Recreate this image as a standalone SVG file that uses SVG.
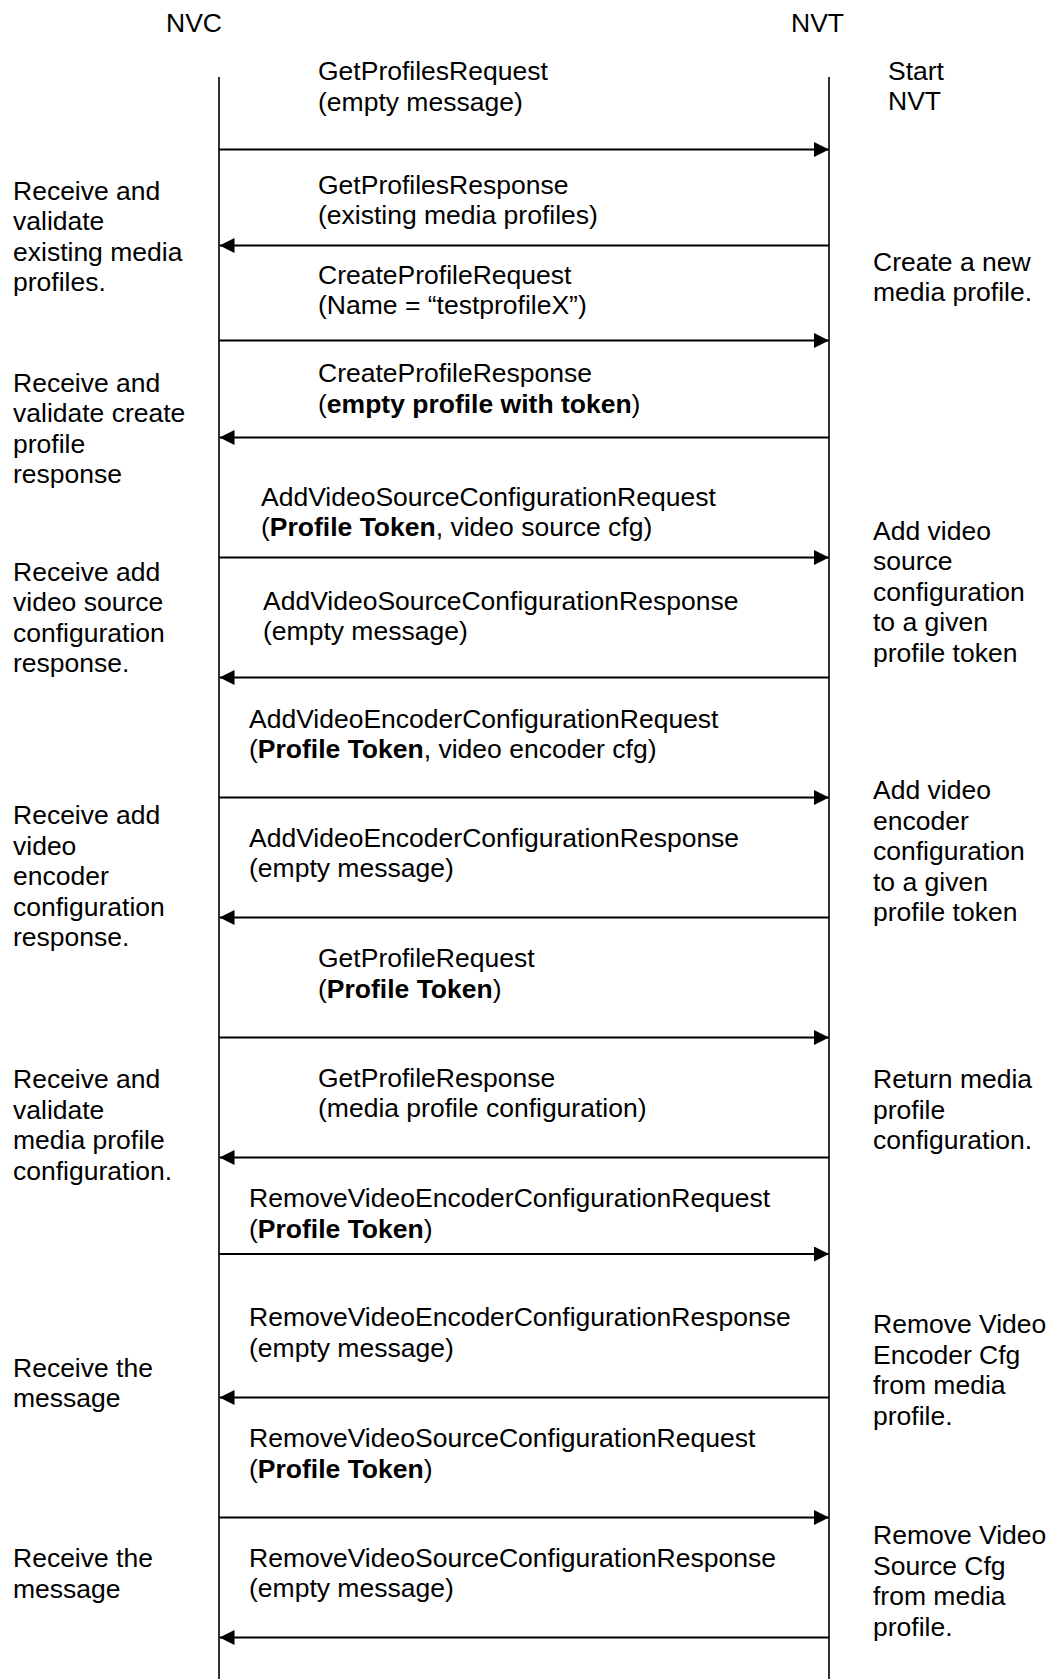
<svg xmlns="http://www.w3.org/2000/svg" width="1051" height="1679" viewBox="0 0 1051 1679">
<style>
text{font-family:"Liberation Sans",Arial,sans-serif;font-size:26.5px;fill:#000}
.b{font-weight:bold}
.life{stroke:#000;stroke-width:1.6;fill:none}
.msg{stroke:#000;stroke-width:2;fill:none;marker-end:url(#ah)}
</style>
<defs>
<marker id="ah" viewBox="0 0 15 15" refX="15" refY="7.5" markerWidth="15" markerHeight="15" orient="auto" markerUnits="userSpaceOnUse">
<path d="M0,0 L15,7.5 L0,15 z" fill="#000"/>
</marker>
</defs>
<rect width="1051" height="1679" fill="#fff"/>
<g id="nvc">
<text x="166" y="32">NVC</text>
<line class="life" x1="219" y1="77" x2="219" y2="1679"/>
</g>
<g id="nvt">
<text x="791" y="32">NVT</text>
<line class="life" x1="829" y1="77" x2="829" y2="1679"/>
</g>
<g id="connectors">
<line class="msg" x1="219" y1="149.5" x2="829" y2="149.5"/>
<line class="msg" x1="829" y1="245.5" x2="219.5" y2="245.5"/>
<line class="msg" x1="219" y1="340.5" x2="829" y2="340.5"/>
<line class="msg" x1="829" y1="437.5" x2="219.5" y2="437.5"/>
<line class="msg" x1="219" y1="557.5" x2="829" y2="557.5"/>
<line class="msg" x1="829" y1="677.5" x2="219.5" y2="677.5"/>
<line class="msg" x1="219" y1="797.5" x2="829" y2="797.5"/>
<line class="msg" x1="829" y1="917.5" x2="219.5" y2="917.5"/>
<line class="msg" x1="219" y1="1037.5" x2="829" y2="1037.5"/>
<line class="msg" x1="829" y1="1157.5" x2="219.5" y2="1157.5"/>
<line class="msg" x1="219" y1="1254" x2="829" y2="1254"/>
<line class="msg" x1="829" y1="1397.5" x2="219.5" y2="1397.5"/>
<line class="msg" x1="219" y1="1517.5" x2="829" y2="1517.5"/>
<line class="msg" x1="829" y1="1637.5" x2="219.5" y2="1637.5"/>
</g>
<g id="labels">
<g id="m1"><text x="318" y="80">GetProfilesRequest</text><text x="318" y="110.5">(empty message)</text></g>
<g id="m2"><text x="318" y="193.5">GetProfilesResponse</text><text x="318" y="224">(existing media profiles)</text></g>
<g id="m3"><text x="318" y="283.5">CreateProfileRequest</text><text x="318" y="314">(Name = “testprofileX”)</text></g>
<g id="m4"><text x="318" y="382">CreateProfileResponse</text><text x="318" y="412.5">(<tspan class="b">empty profile with token</tspan>)</text></g>
<g id="m5"><text x="261" y="505.5">AddVideoSourceConfigurationRequest</text><text x="261" y="536">(<tspan class="b">Profile Token</tspan>, video source cfg)</text></g>
<g id="m6"><text x="263" y="609.5">AddVideoSourceConfigurationResponse</text><text x="263" y="640">(empty message)</text></g>
<g id="m7"><text x="249" y="727.5">AddVideoEncoderConfigurationRequest</text><text x="249" y="758">(<tspan class="b">Profile Token</tspan>, video encoder cfg)</text></g>
<g id="m8"><text x="249" y="846.5">AddVideoEncoderConfigurationResponse</text><text x="249" y="877">(empty message)</text></g>
<g id="m9"><text x="318" y="967">GetProfileRequest</text><text x="318" y="997.5">(<tspan class="b">Profile Token</tspan>)</text></g>
<g id="m10"><text x="318" y="1086.5">GetProfileResponse</text><text x="318" y="1117">(media profile configuration)</text></g>
<g id="m11"><text x="249" y="1207">RemoveVideoEncoderConfigurationRequest</text><text x="249" y="1237.5">(<tspan class="b">Profile Token</tspan>)</text></g>
<g id="m12"><text x="249" y="1326">RemoveVideoEncoderConfigurationResponse</text><text x="249" y="1356.5">(empty message)</text></g>
<g id="m13"><text x="249" y="1447">RemoveVideoSourceConfigurationRequest</text><text x="249" y="1477.5">(<tspan class="b">Profile Token</tspan>)</text></g>
<g id="m14"><text x="249" y="1566.5">RemoveVideoSourceConfigurationResponse</text><text x="249" y="1597">(empty message)</text></g>
</g>
<g id="note-l1"><text x="13" y="199.5">Receive and</text><text x="13" y="230">validate</text><text x="13" y="260.5">existing media</text><text x="13" y="291">profiles.</text></g>
<g id="note-l2"><text x="13" y="391.5">Receive and</text><text x="13" y="422">validate create</text><text x="13" y="452.5">profile</text><text x="13" y="483">response</text></g>
<g id="note-l3"><text x="13" y="580.5">Receive add</text><text x="13" y="611">video source</text><text x="13" y="641.5">configuration</text><text x="13" y="672">response.</text></g>
<g id="note-l4"><text x="13" y="824">Receive add</text><text x="13" y="854.5">video</text><text x="13" y="885">encoder</text><text x="13" y="915.5">configuration</text><text x="13" y="946">response.</text></g>
<g id="note-l5"><text x="13" y="1088">Receive and</text><text x="13" y="1118.5">validate</text><text x="13" y="1149">media profile</text><text x="13" y="1179.5">configuration.</text></g>
<g id="note-l6"><text x="13" y="1376.5">Receive the</text><text x="13" y="1407">message</text></g>
<g id="note-l7"><text x="13" y="1567">Receive the</text><text x="13" y="1597.5">message</text></g>
<g id="note-r0"><text x="888" y="79.5">Start</text><text x="888" y="110">NVT</text></g>
<g id="note-r1"><text x="873" y="270.5">Create a new</text><text x="873" y="301">media profile.</text></g>
<g id="note-r2"><text x="873" y="539.5">Add video</text><text x="873" y="570">source</text><text x="873" y="600.5">configuration</text><text x="873" y="631">to a given</text><text x="873" y="661.5">profile token</text></g>
<g id="note-r3"><text x="873" y="799">Add video</text><text x="873" y="829.5">encoder</text><text x="873" y="860">configuration</text><text x="873" y="890.5">to a given</text><text x="873" y="921">profile token</text></g>
<g id="note-r4"><text x="873" y="1088">Return media</text><text x="873" y="1118.5">profile</text><text x="873" y="1149">configuration.</text></g>
<g id="note-r5"><text x="873" y="1333">Remove Video</text><text x="873" y="1363.5">Encoder Cfg</text><text x="873" y="1394">from media</text><text x="873" y="1424.5">profile.</text></g>
<g id="note-r6"><text x="873" y="1544">Remove Video</text><text x="873" y="1574.5">Source Cfg</text><text x="873" y="1605">from media</text><text x="873" y="1635.5">profile.</text></g>
</svg>
